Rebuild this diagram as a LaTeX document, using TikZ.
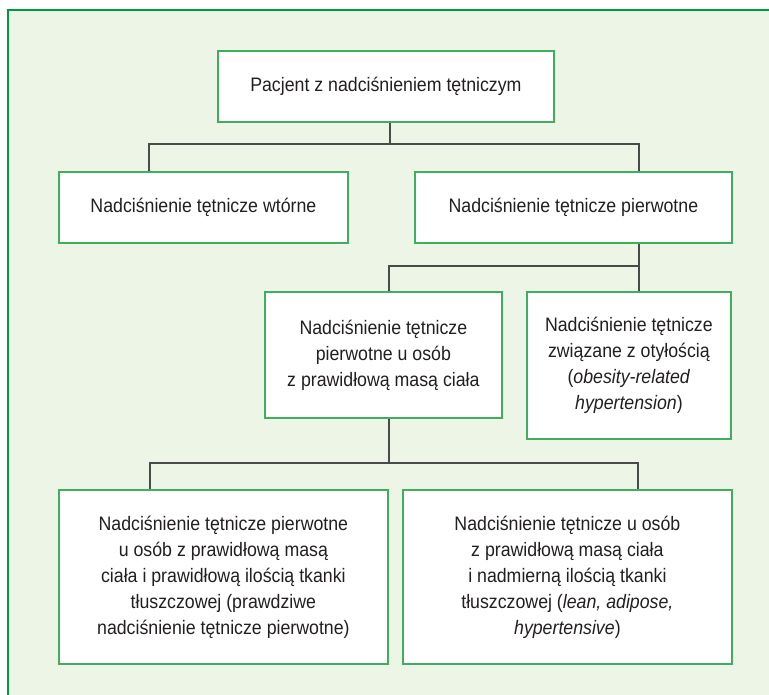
\documentclass[tikz,border=0pt]{standalone}
\usepackage{fontspec}
\setmainfont{Liberation Sans}[FakeStretch=0.91]
\definecolor{bgc}{HTML}{EDF5E6}
\definecolor{framec}{HTML}{009A44}
\definecolor{boxc}{HTML}{3FAE5F}
\definecolor{linec}{HTML}{4A4A4A}
\definecolor{txtc}{HTML}{231F20}
\tikzset{
  box/.style={draw=boxc, line width=1.8pt, fill=white, anchor=north west, inner sep=0pt,
    align=center, text=txtc, font=\fontsize{19.5}{26}\selectfont},
  conn/.style={draw=linec, line width=1.4pt}
}
\begin{document}
\begin{tikzpicture}[x=1pt,y=-1pt]
\useasboundingbox (0,0) rectangle (769,695);
\fill[bgc] (8,10) rectangle (769,695);
\draw[framec, line width=1.8pt] (8,695) -- (8,10) -- (769,10);

\node[box, minimum width=336pt, minimum height=71pt] (top) at (217,50) {Pacjent z nadciśnieniem tętniczym};
\node[box, minimum width=289pt, minimum height=71pt] (wt) at (58,171) {Nadciśnienie tętnicze wtórne};
\node[box, minimum width=317pt, minimum height=71pt] (pw) at (414,171) {Nadciśnienie tętnicze pierwotne};
\node[box, minimum width=237pt, minimum height=126pt] (ml) at (264,291) {Nadciśnienie tętnicze\\pierwotne u osób\\z prawidłową masą ciała};
\node[box, minimum width=204pt, minimum height=147pt] (mr) at (526,291) {Nadciśnienie tętnicze\\związane z otyłością\\(\textit{obesity-related}\\\textit{hypertension})};
\node[box, minimum width=329pt, minimum height=174pt] (bl) at (58,489) {Nadciśnienie tętnicze pierwotne\\u osób z prawidłową masą\\ciała i prawidłową ilością tkanki\\tłuszczowej (prawdziwe\\nadciśnienie tętnicze pierwotne)};
\node[box, minimum width=329pt, minimum height=174pt] (br) at (402,489) {Nadciśnienie tętnicze u osób\\z prawidłową masą ciała\\i nadmierną ilością tkanki\\tłuszczowej (\textit{lean, adipose,}\\\textit{hypertensive})};

\coordinate (j1) at (390,144);
\coordinate (xa) at (149,0);
\coordinate (xb) at (639,0);
\coordinate (j2) at (639,266);
\coordinate (xc) at (389,0);
\coordinate (j3) at (389,463);
\coordinate (xd) at (150,0);
\coordinate (xe) at (638,0);

\draw[conn] (top.south -| j1) -- (j1);
\draw[conn] (wt.north -| xa) |- (j1) -| (pw.north -| xb);
\draw[conn] (pw.south -| xb) -- (mr.north -| xb);
\draw[conn] (j2) -| (ml.north -| xc);
\draw[conn] (ml.south -| xc) -- (j3);
\draw[conn] (bl.north -| xd) |- (j3) -| (br.north -| xe);
\end{tikzpicture}
\end{document}
